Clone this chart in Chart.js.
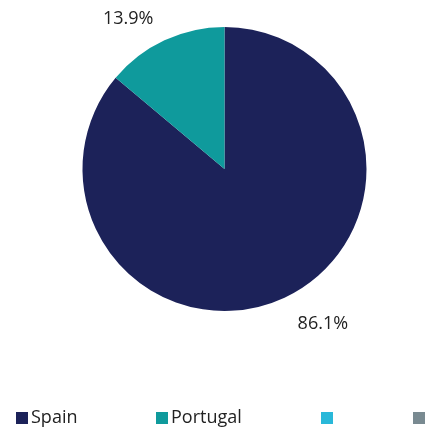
<!DOCTYPE html>
<html>
<head>
    <title>Pie</title>
    <script src="https://cdn.jsdelivr.net/npm/chart.js"></script>
    <style>
        body { margin: 0; background: #fff; }
        #wrap { width: 425px; height: 432px; position: relative; }
    </style>
</head>
<body>
    <div id="wrap"><canvas id="myChart"></canvas></div>
    <script>
        // data
        const countries = ['Spain', 'Portugal', '', ''];
        const shares = [86.1, 13.9, 0, 0];
        const colors = ['#1c2259', '#0f9a9c', '#29b8d9', '#798a91'];
        const pctLabels = ['86.1%', '13.9%', '', ''];

        const fontName = '"Open Sans", sans-serif';

        // percent labels outside each slice
        const outsideLabels = {
            id: 'outsideLabels',
            afterDatasetsDraw(chart) {
                const ctx = chart.ctx;
                const meta = chart.getDatasetMeta(0);
                ctx.save();
                ctx.font = '18px ' + fontName;
                ctx.fillStyle = '#222';
                ctx.textBaseline = 'middle';
                ctx.textAlign = 'center';
                meta.data.forEach((arc, i) => {
                    if (!pctLabels[i]) return;
                    const mid = (arc.startAngle + arc.endAngle) / 2;
                    const r = arc.outerRadius + 22;
                    let x = arc.x + Math.cos(mid) * r;
                    let y = arc.y + Math.sin(mid) * r;
                    // nudge labels like the original layout
                    if (i === 0) { x += 29; y += 6; }
                    if (i === 1) { x -= 27; y -= 2; }
                    ctx.fillText(pctLabels[i], x, y);
                });
                ctx.restore();
            }
        };

        // legend row along the bottom
        const legendX = [16, 156, 321, 413];
        const bottomLegend = {
            id: 'bottomLegend',
            afterDraw(chart) {
                const ctx = chart.ctx;
                const y = 418;
                ctx.save();
                ctx.font = '18px ' + fontName;
                ctx.textBaseline = 'middle';
                ctx.textAlign = 'left';
                countries.forEach((name, i) => {
                    ctx.fillStyle = colors[i];
                    ctx.fillRect(legendX[i], y - 6, 12, 12);
                    ctx.fillStyle = '#222';
                    ctx.fillText(name, legendX[i] + 15, y);
                });
                ctx.restore();
            }
        };

        const config = {
            type: 'pie',
            data: {
                labels: countries,
                datasets: [{
                    data: shares,
                    backgroundColor: colors,
                    borderWidth: 0
                }]
            },
            options: {
                responsive: true,
                maintainAspectRatio: false,
                animation: false,
                layout: {
                    padding: { top: 27, bottom: 121, left: 82, right: 58 }
                },
                plugins: {
                    legend: { display: false },
                    tooltip: { enabled: false }
                }
            },
            plugins: [outsideLabels, bottomLegend]
        };

        var myChart = new Chart(document.getElementById('myChart'), config);
    </script>
</body>
</html>
